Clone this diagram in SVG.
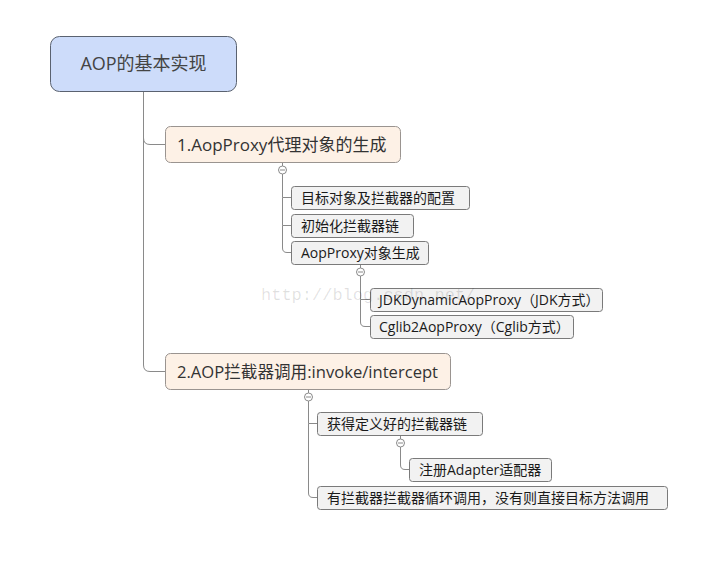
<svg xmlns="http://www.w3.org/2000/svg" width="713" height="564" viewBox="0 0 713 564">
<style>
text{font-family:"Open Sans","Noto Sans CJK SC",sans-serif;fill:#1a1a1a}
.root rect{fill:#cddcfa;stroke:#5a6270;stroke-width:1}
.main rect{fill:#fdf1e6;stroke:#9a9490;stroke-width:1}
.leaf rect{fill:#f2f2f2;stroke:#7a7a7a;stroke-width:1}
.conn path{fill:none;stroke:#8a8a8a;stroke-width:1}
.conn circle{fill:#fff;stroke:#8a8a8a;stroke-width:1}
.conn line.m{stroke:#8a8a8a;stroke-width:1}
.t1{font-size:18px;fill:#444}
.t2{font-size:17px;fill:#333}
.t3{font-size:14px}
</style>
<rect width="713" height="564" fill="#fff"/>
<g class="conn" id="connectors">
<path d="M143.5 91 V138 Q143.5 144.5 150 144.5 H165"/>
<path d="M143.5 138 V365 Q143.5 371.5 150 371.5 H165"/>
<path d="M282.5 162 V166"/>
<path d="M282.5 174 V197.5 H291 M282.5 197.5 V225.5 H291 M282.5 225.5 V248 Q282.5 252.5 287 252.5 H291"/>
<path d="M360.5 264 V268"/>
<path d="M360.5 276 V299.5 H370 M360.5 299.5 V322 Q360.5 326.5 365 326.5 H370"/>
<path d="M308.5 389 V393"/>
<path d="M308.5 401 V423.5 H317 M308.5 423.5 V493 Q308.5 497.5 313 497.5 H317"/>
<path d="M400.5 435 V439"/>
<path d="M400.5 447 V465 Q400.5 469.5 405 469.5 H409"/>
<circle cx="282.5" cy="170" r="4"/><line class="m" x1="280" y1="170" x2="285" y2="170"/>
<circle cx="360.5" cy="272" r="4"/><line class="m" x1="358" y1="272" x2="363" y2="272"/>
<circle cx="308.5" cy="397" r="4"/><line class="m" x1="306" y1="397" x2="311" y2="397"/>
<circle cx="400.5" cy="443" r="4"/><line class="m" x1="398" y1="443" x2="403" y2="443"/>
</g>
<g id="root" class="root"><rect x="50.5" y="36.5" width="186" height="55" rx="9"/><text class="t1" x="143.5" y="70" text-anchor="middle">AOP的基本实现</text></g>
<g id="n1" class="main"><rect x="165.5" y="126.5" width="235" height="36" rx="5"/><text class="t2" x="177" y="150.5">1.AopProxy代理对象的生成</text></g>
<g id="n1a" class="leaf"><rect x="291.5" y="186.5" width="178" height="23" rx="3"/><text class="t3" x="301" y="203">目标对象及拦截器的配置</text></g>
<g id="n1b" class="leaf"><rect x="291.5" y="214.5" width="122" height="23" rx="3"/><text class="t3" x="301" y="231">初始化拦截器链</text></g>
<g id="n1c" class="leaf"><rect x="291.5" y="241.5" width="137" height="23" rx="3"/><text class="t3" x="301" y="258">AopProxy对象生成</text></g>
<g id="n1c1" class="leaf"><rect x="370.5" y="288.5" width="232" height="23" rx="3"/><text class="t3" x="379" y="305">JDKDynamicAopProxy（JDK方式）</text></g>
<g id="n1c2" class="leaf"><rect x="370.5" y="315.5" width="203" height="23" rx="3"/><text class="t3" x="379" y="332">Cglib2AopProxy（Cglib方式）</text></g>
<g id="n2" class="main"><rect x="165.5" y="353.5" width="285" height="36" rx="5"/><text class="t2" x="177" y="377.5" style="font-size:16.6px">2.AOP拦截器调用:invoke/intercept</text></g>
<g id="n2a" class="leaf"><rect x="317.5" y="412.5" width="165" height="23" rx="3"/><text class="t3" x="327" y="429">获得定义好的拦截器链</text></g>
<g id="n2a1" class="leaf"><rect x="409.5" y="458.5" width="142" height="23" rx="3"/><text class="t3" x="419" y="475">注册Adapter适配器</text></g>
<g id="n2b" class="leaf"><rect x="317.5" y="486.5" width="350" height="23" rx="3"/><text class="t3" x="327" y="503">有拦截器拦截器循环调用，没有则直接目标方法调用</text></g>
<text x="261" y="300" style="font-family:'Liberation Mono','DejaVu Sans Mono',monospace;font-size:17px;fill:#000;fill-opacity:0.12">http://blog.csdn.net/</text>
</svg>
